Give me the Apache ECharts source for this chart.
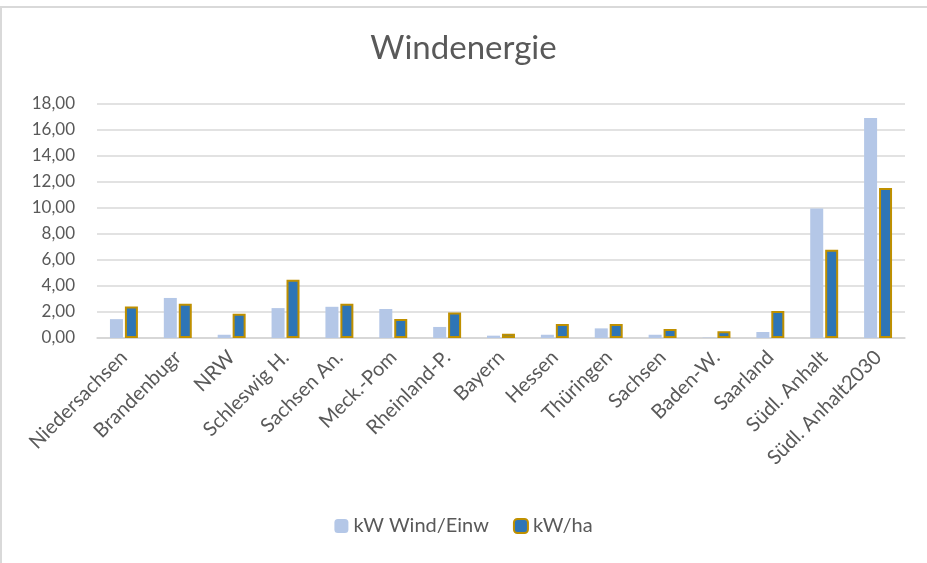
<!DOCTYPE html>
<html>
<head>
<meta charset="utf-8">
<script src="https://cdn.jsdelivr.net/npm/echarts@6/dist/echarts.min.js"></script>
<style>
html,body{margin:0;padding:0;background:#fff;}
#c{width:927px;height:563px;}
</style>
</head>
<body>
<div id="c"></div>
<script>
const categories = ["Niedersachsen","Brandenbugr","NRW","Schleswig H.","Sachsen An.","Meck.-Pom","Rheinland-P.","Bayern","Hessen","Thüringen","Sachsen","Baden-W.","Saarland","Südl. Anhalt","Südl. Anhalt2030"];
const windPerEinw = [1.45, 3.08, 0.25, 2.30, 2.40, 2.23, 0.85, 0.18, 0.25, 0.74, 0.25, 0.03, 0.46, 9.97, 16.92];
const kwPerHa = [2.43, 2.64, 1.87, 4.48, 2.64, 1.46, 1.97, 0.33, 1.07, 1.07, 0.69, 0.51, 2.08, 6.79, 11.54];
const seriesNames = ["kW Wind/Einw", "kW/ha"];

const font = "Lato, 'Liberation Sans', sans-serif";
const chart = echarts.init(document.getElementById('c'));
chart.setOption({
  animation: false,
  backgroundColor: '#fff',
  graphic: [
    {type:'line', shape:{x1:0,y1:7,x2:927,y2:7}, style:{stroke:'#d9d9d9', lineWidth:2}},
    {type:'line', shape:{x1:1,y1:7,x2:1,y2:563}, style:{stroke:'#d9d9d9', lineWidth:2}}
  ],
  title: {
    text: 'Windenergie',
    left: 'center',
    top: 27,
    textStyle: {fontFamily: font, fontSize: 33, fontWeight: 'normal', color: '#595959'}
  },
  legend: {
    bottom: 22,
    left: 'center',
    itemWidth: 14,
    itemHeight: 14,
    itemGap: 24,
    textStyle: {fontFamily: font, fontSize: 20, color: '#595959'},
    data: seriesNames
  },
  grid: {left: 97, right: 22, top: 104, bottom: 225, outerBoundsMode: 'none'},
  xAxis: {
    type: 'category',
    data: categories,
    axisLine: {lineStyle: {color: '#d4d4d4', width: 1.5}},
    axisTick: {show: false},
    axisLabel: {rotate: 45, interval: 0, fontFamily: font, fontSize: 20, color: '#595959', margin: 16}
  },
  yAxis: {
    type: 'value',
    min: 0, max: 18, interval: 2,
    axisLine: {show: false},
    axisTick: {show: false},
    splitLine: {lineStyle: {color: '#d9d9d9', width: 1.5}},
    axisLabel: {fontFamily: font, fontSize: 17, color: '#595959', margin: 22,
      formatter: v => v.toFixed(2).replace('.', ',')}
  },
  series: [
    {name: seriesNames[0], type: 'bar', data: windPerEinw, barWidth: 13, barGap: '15%',
     itemStyle: {color: '#b4c7e7'}},
    {name: seriesNames[1], type: 'bar', data: kwPerHa, barWidth: 13,
     itemStyle: {color: '#2e75b6', borderColor: '#bf9000', borderWidth: 2}}
  ]
});
</script>
</body>
</html>
